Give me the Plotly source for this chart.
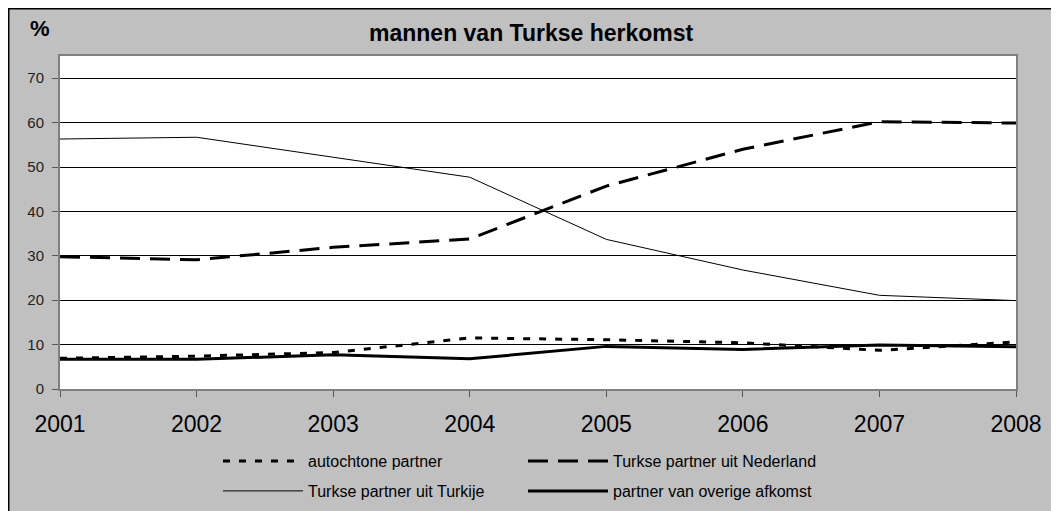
import plotly.graph_objects as go

years = ["2001", "2002", "2003", "2004", "2005", "2006", "2007", "2008"]
autochtone = [6.9, 7.4, 8.2, 11.5, 11.1, 10.4, 8.7, 10.6]
nederland = [29.8, 29.1, 31.9, 33.8, 45.7, 54.0, 60.2, 59.9]
turkije = [56.3, 56.7, 52.2, 47.7, 33.7, 26.8, 21.1, 19.9]
overige = [6.7, 6.7, 7.7, 6.8, 9.6, 8.9, 9.9, 9.5]

# page has an 8px body margin; work in figure pixel coordinates
W, H = 1051, 503
L, R, T, B = 52, 1008, 48, 381
pw, ph = R - L, B - T

def px(x):
    return (x - L) / pw

def py(y):
    return (B - y) / ph

FONT = "Arial, Liberation Sans, sans-serif"

fig = go.Figure()
fig.add_trace(go.Scatter(x=years, y=autochtone, mode="lines", name="autochtone partner",
                         line=dict(color="black", width=3, dash="7px,9px"), legend="legend"))
fig.add_trace(go.Scatter(x=years, y=nederland, mode="lines", name="Turkse partner uit Nederland",
                         line=dict(color="black", width=3, dash="20px,10px"), legend="legend"))
fig.add_trace(go.Scatter(x=years, y=turkije, mode="lines", name="Turkse partner uit Turkije",
                         line=dict(color="black", width=1), legend="legend2"))
fig.add_trace(go.Scatter(x=years, y=overige, mode="lines", name="partner van overige afkomst",
                         line=dict(color="black", width=3), legend="legend2"))

shapes = [
    dict(type="rect", xref="paper", yref="paper", layer="below",
         x0=px(0.75), x1=px(1100), y0=py(560), y1=py(0.75),
         fillcolor="#C0C0C0", line=dict(color="black", width=1.5)),
    dict(type="rect", xref="paper", yref="paper", layer="below",
         x0=0, x1=1, y0=0, y1=1, fillcolor="white", line=dict(width=0)),
]

legend_common = dict(orientation="h", xanchor="left", yanchor="middle",
                     xref="container", yref="container",
                     bgcolor="rgba(0,0,0,0)", borderwidth=0,
                     itemwidth=80,
                     entrywidth=210, entrywidthmode="pixels",
                     font=dict(family=FONT, size=16, color="black"))

fig.update_layout(
    width=W, height=H,
    margin=dict(l=L, r=W - R, t=T, b=H - B, autoexpand=False),
    paper_bgcolor="white", plot_bgcolor="white",
    showlegend=True,
    legend=dict(x=210 / W, y=1 - 453 / H, **legend_common),
    legend2=dict(x=210 / W, y=1 - 483 / H, **legend_common),
    shapes=shapes,
    annotations=[
        dict(text="<b>mannen van Turkse herkomst</b>", xref="paper", yref="paper",
             x=px(523), y=py(25), xanchor="center", yanchor="middle", showarrow=False,
             font=dict(family=FONT, size=23, color="black")),
        dict(text="<b>%</b>", xref="paper", yref="paper",
             x=px(32), y=py(21), xanchor="center", yanchor="middle", showarrow=False,
             font=dict(family=FONT, size=22, color="black")),
    ],
    xaxis=dict(type="category", range=[0, 7], showgrid=False, zeroline=False,
               showline=True, mirror=True, linecolor="#808080", linewidth=2,
               ticks="outside", ticklen=6, tickcolor="#555", tickwidth=1,
               ticklabelstandoff=7,
               tickfont=dict(family=FONT, size=23, color="black")),
    yaxis=dict(range=[0, 75], tickvals=[0, 10, 20, 30, 40, 50, 60, 70],
               showgrid=True, gridcolor="black", gridwidth=1, zeroline=False,
               showline=True, mirror=True, linecolor="#808080", linewidth=2,
               ticks="outside", ticklen=6, tickcolor="#555", tickwidth=1,
               ticklabelstandoff=5,
               tickfont=dict(family=FONT, size=15, color="#222")),
)

fig.write_html("out.html")
